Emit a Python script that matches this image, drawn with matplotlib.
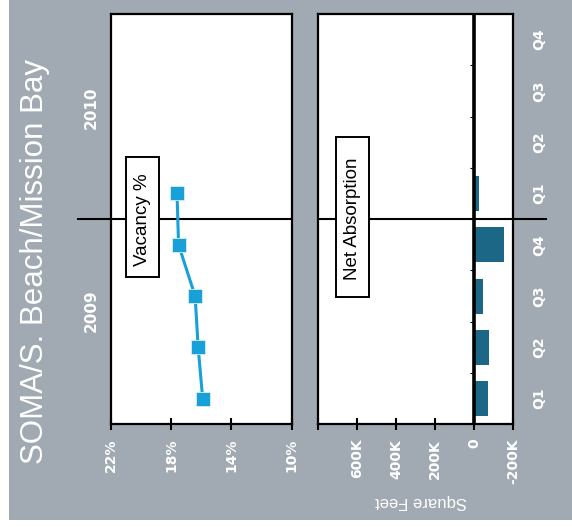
import numpy as np
import matplotlib
matplotlib.use("Agg")
import matplotlib.pyplot as plt
from matplotlib.patches import Rectangle
import matplotlib.transforms as mtransforms

# quarters run bottom (Q1 2009) to top (Q4 2010)
quarters = ["Q1", "Q2", "Q3", "Q4", "Q1", "Q2", "Q3", "Q4"]
years = ["2009", "2010"]
vacancy = [15.9, 16.2, 16.4, 17.5, 17.6]                         # percent
net_absorption = [-68000, -76000, -44000, -151000, -24000]      # square feet

vac_ticks = [22, 18, 14, 10]
vac_ticklabels = ["22%", "18%", "14%", "10%"]
abs_ticks = [800000, 600000, 400000, 200000, 0, -200000]
abs_ticklabels = ["", "600K", "400K", "200K", "0", "-200K"]

bg = "#a1aab2"
line_blue = "#18a0d8"
bar_blue = "#1c6686"

plt.rcParams["font.family"] = ["DejaVu Sans"]

fig = plt.figure(figsize=(5.72, 5.27), dpi=100, facecolor="white")
fig.patches.append(Rectangle((9 / 572, 7 / 527), 1, 1, transform=fig.transFigure,
                             facecolor=bg, edgecolor="none", zorder=-10))

ax1 = fig.add_axes([0.1935, 0.1949, 0.3164, 0.7786])
ax2 = fig.add_axes([0.5565, 0.1949, 0.3409, 0.7786])

n = len(quarters)
qpos = np.arange(n)
split = 3.5

for ax in (ax1, ax2):
    ax.set_ylim(-0.5, n - 0.5)
    for s in ax.spines.values():
        s.set_linewidth(1.6)
    ax.tick_params(axis="x", direction="inout", length=9, width=1.5,
                   colors="black", labelcolor="white", labelsize=10, pad=6)

# vacancy panel
ax1.set_xlim(22, 10)
ax1.set_xticks(vac_ticks)
ax1.set_xticklabels(vac_ticklabels, rotation=90, fontweight="bold")
ax1.set_yticks([])
ax1.plot(vacancy, qpos[:len(vacancy)], color=line_blue, lw=2.2, marker="s",
         ms=9.5, mfc=line_blue, mec="#d8eef8", mew=0.6, zorder=3)

ax1.plot([-0.18, 1.0], [split, split], color="black", lw=1.5,
         transform=mtransforms.blended_transform_factory(ax1.transAxes, ax1.transData),
         clip_on=False, zorder=2)
ax1.add_patch(Rectangle((0.083, 0.359), 0.184, 0.292, transform=ax1.transAxes,
                        facecolor="white", edgecolor="black", lw=1.4, zorder=4))
ax1.text(0.175, 0.498, "Vacancy %", rotation=90, ha="center", va="center",
         transform=ax1.transAxes, fontsize=13.5, family="Liberation Sans", zorder=5)

yr = mtransforms.blended_transform_factory(ax1.transAxes, ax1.transData)
ax1.text(-0.11, 1.72, years[0], rotation=90, ha="center", va="center", transform=yr,
         color="white", fontsize=11, fontweight="bold")
ax1.text(-0.11, 5.68, years[1], rotation=90, ha="center", va="center", transform=yr,
         color="white", fontsize=11, fontweight="bold")

# net absorption panel
ax2.set_xlim(800000, -200000)
ax2.set_xticks(abs_ticks)
ax2.set_xticklabels(abs_ticklabels, rotation=90, fontweight="bold")
ax2.barh(qpos[:len(net_absorption)], net_absorption, height=0.68, color=bar_blue, zorder=2)
ax2.axvline(0, color="black", lw=2.6, zorder=3)
bounds = np.arange(n + 1) - 0.5
ax2.hlines(bounds[1:-1], 0, 20000, color="black", lw=0.8, zorder=3)

ax2.set_yticks(qpos)
ax2.set_yticklabels(quarters, rotation=90, va="center")
ax2.tick_params(axis="y", left=False, right=False, labelleft=False, labelright=True,
                pad=10, labelcolor="white", labelsize=10)
for lbl in ax2.get_yticklabels():
    lbl.set_fontweight("bold")

ax2.plot([0.0, 1.168], [split, split], color="black", lw=1.5,
         transform=mtransforms.blended_transform_factory(ax2.transAxes, ax2.transData),
         clip_on=False, zorder=2)
ax2.add_patch(Rectangle((0.089, 0.31), 0.173, 0.391, transform=ax2.transAxes,
                        facecolor="white", edgecolor="black", lw=1.4, zorder=4))
ax2.text(0.176, 0.502, "Net Absorption", rotation=90, ha="center", va="center",
         transform=ax2.transAxes, fontsize=13.5, family="Liberation Sans", zorder=5)

fig.text(421.5 / 572, 1 - 502 / 527, "Square Feet", rotation=180, ha="center", va="center",
         color="white", fontsize=12, family="Liberation Sans")

fig.text(35 / 572, 1 - 262 / 527, "SOMA/S. Beach/Mission Bay", rotation=90,
         ha="center", va="center", color="white", fontsize=22.5, family="Liberation Sans")

fig.savefig("out.png", dpi=100, facecolor=fig.get_facecolor())
